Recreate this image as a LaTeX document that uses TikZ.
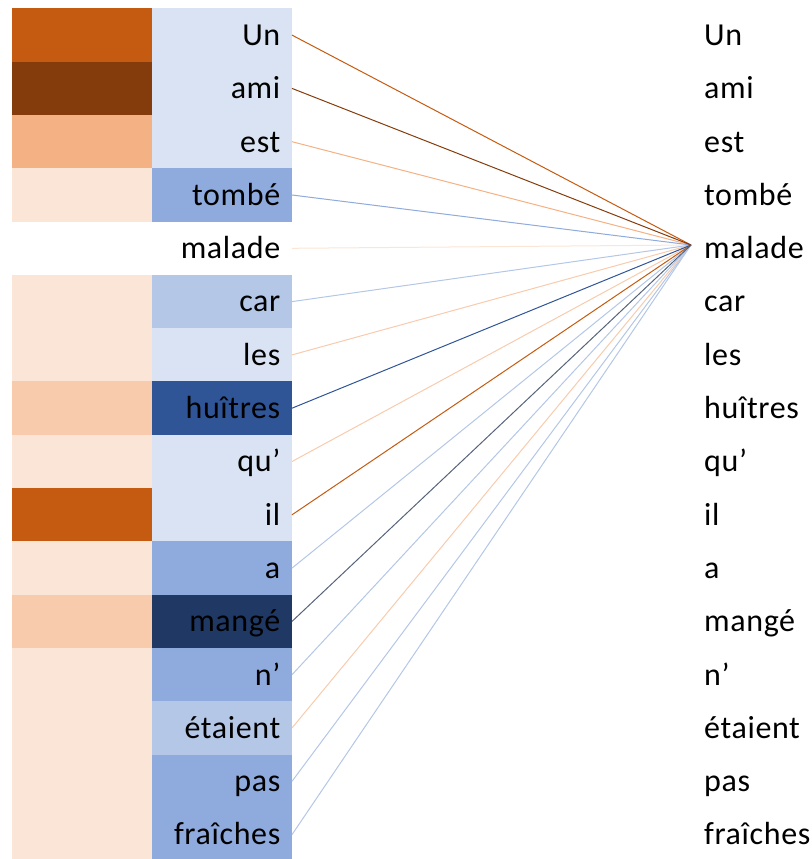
\documentclass[tikz,border=0pt]{standalone}
\usepackage{fontspec}
\setmainfont{Carlito}[LetterSpace=2]
\definecolor{oA}{HTML}{C55A11}
\definecolor{oB}{HTML}{843C0C}
\definecolor{oC}{HTML}{F4B183}
\definecolor{oD}{HTML}{F8CBAD}
\definecolor{oE}{HTML}{FBE5D6}
\definecolor{bA}{HTML}{DAE3F3}
\definecolor{bB}{HTML}{B4C7E7}
\definecolor{bC}{HTML}{8FAADC}
\definecolor{bD}{HTML}{2F5597}
\definecolor{bE}{HTML}{1F3864}
\definecolor{bF}{HTML}{56637A}
\begin{document}
\begin{tikzpicture}[x=1pt,y=-1pt,
  cell/.style={rectangle,inner sep=0pt,outer sep=0pt,minimum width=140pt,minimum height=53.6pt,anchor=north west},
  word/.style={inner sep=0pt,font=\fontsize{32}{32}\selectfont},
  link/.style={line width=1pt}]
\useasboundingbox (0,0) rectangle (811,859);
\coordinate (conv) at (691,245);
\foreach \i/\w/\lc/\rc in {
  0/Un/oA/bA,
  1/ami/oB/bA,
  2/est/oC/bA,
  3/tombé/oE/bC,
  4/malade/white/white,
  5/car/oE/bB,
  6/les/oE/bA,
  7/huîtres/oD/bD,
  8/qu’/oE/bA,
  9/il/oA/bA,
  10/a/oE/bC,
  11/mangé/oD/bE,
  12/n’/oE/bC,
  13/étaient/oE/bB,
  14/pas/oE/bC,
  15/fraîches/oE/bC}{
  \pgfmathsetmacro{\top}{8.3+53.3*\i}
  \pgfmathsetmacro{\mid}{\top+26.65}
  \pgfmathsetmacro{\base}{\mid+10.5}
  \node[cell,fill=\lc] (lc\i) at (12,\top) {};
  \node[cell,fill=\rc] (rc\i) at (152,\top) {};
  \node[word,anchor=base east] (lw\i) at (280.5,\base) {\w};
  \node[word,anchor=base west] (rw\i) at (704,\base) {\w};
}
\foreach \i/\ln in {4/oE,13/oD,8/oD,6/oD,2/oC,5/bB,10/bB,12/bB,14/bB,15/bB,3/bC,0/oA,9/oA,1/oB,7/bD,11/bF}{
  \draw[link,\ln] (rc\i.east) -- (conv);
}
\end{tikzpicture}
\end{document}
